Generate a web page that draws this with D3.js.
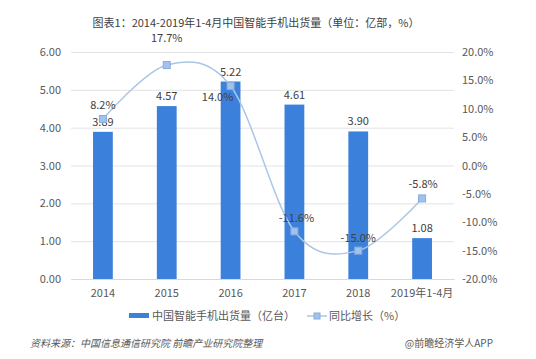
<!DOCTYPE html>
<html><head><meta charset="utf-8">
<script src="https://cdn.jsdelivr.net/npm/d3@7/dist/d3.min.js"></script>
<style>body{margin:0;background:#fff}svg{display:block}text{font-family:"Noto Sans CJK SC","Noto Sans",sans-serif}</style>
</head><body><svg id="c" width="536" height="359"></svg>
<script>
const categories = ["2014","2015","2016","2017","2018","2019年1-4月"];
const shipments = [3.89,4.57,5.22,4.61,3.90,1.08];
const growth = [8.2,17.7,14.0,-11.6,-15.0,-5.8];
const leftTicks = [0,1,2,3,4,5,6];
const rightTicks = [-20,-15,-10,-5,0,5,10,15,20];
const title = "图表1：2014-2019年1-4月中国智能手机出货量（单位：亿部，%）";
const legendNames = ["中国智能手机出货量（亿台）","同比增长（%）"];
const sourceText = "资料来源：中国信息通信研究院 前瞻产业研究院整理";
const creditText = "@前瞻经济学人APP";
// label offsets (layout only)
const pctLabelOffsets = [[0,-10],[0,-23],[-13,15],[2,-9],[0,-9],[1,-10]];

const svg = d3.select("#c");
const L=71,R=454,T=52,B=279;
const x = d3.scaleBand().domain(categories).range([L,R]).paddingInner(0.69).paddingOuter(0.345);
const yL = d3.scaleLinear().domain([0,6]).range([B,T]);
const yR = d3.scaleLinear().domain([-20,20]).range([B,T]);
const cx = d=>x(d)+x.bandwidth()/2;

svg.append("text").attr("x",256).attr("y",27).attr("text-anchor","middle")
  .attr("font-size",11).attr("fill","#404040").text(title);

// grid
svg.append("g").selectAll("line").data(leftTicks).join("line")
  .attr("x1",L).attr("x2",R).attr("y1",d=>yL(d)+0.5).attr("y2",d=>yL(d)+0.5)
  .attr("stroke","#e3e3e3");

// left axis
const gl = svg.append("g").attr("transform",`translate(${L},0)`)
  .call(d3.axisLeft(yL).tickValues(leftTicks).tickFormat(d3.format(".2f")).tickSize(0).tickPadding(10));
gl.select(".domain").remove();
gl.selectAll("text").attr("font-size",11).attr("fill","#595959").attr("font-family","'Noto Sans CJK SC'");

// right axis
const gr = svg.append("g").attr("transform",`translate(${R},0)`)
  .call(d3.axisRight(yR).tickValues(rightTicks).tickFormat(d=>d.toFixed(1)+"%").tickSize(0).tickPadding(8));
gr.select(".domain").remove();
gr.selectAll("text").attr("font-size",11).attr("fill","#595959").attr("font-family","'Noto Sans CJK SC'");

// x axis
const gx = svg.append("g").attr("transform",`translate(0,${B})`)
  .call(d3.axisBottom(x).tickSize(0).tickPadding(10));
gx.select(".domain").attr("stroke","#d9d9d9");
gx.selectAll("text").attr("font-size",11).attr("fill","#595959").attr("font-family","'Noto Sans CJK SC'");

// bars
svg.append("g").selectAll("rect").data(categories).join("rect")
  .attr("x",d=>x(d)).attr("width",x.bandwidth())
  .attr("y",(d,i)=>yL(shipments[i])).attr("height",(d,i)=>B-yL(shipments[i]))
  .attr("fill","#3b80db");

// bar labels
svg.append("g").selectAll("text").data(categories).join("text")
  .attr("x",d=>cx(d)).attr("y",(d,i)=>yL(shipments[i])-6)
  .attr("text-anchor","middle").attr("font-size",11).attr("fill","#404040")
  .text((d,i)=>shipments[i].toFixed(2));

// line
const line = d3.line().x(d=>cx(d[0])).y(d=>yR(d[1])).curve(d3.curveCardinal.tension(0));
const pts = categories.map((c,i)=>[c,growth[i]]);
svg.append("path").attr("d",line(pts)).attr("fill","none").attr("stroke","#abc6e6").attr("stroke-width",1.5);
svg.append("g").selectAll("rect").data(pts).join("rect")
  .attr("x",d=>cx(d[0])-3.5).attr("y",d=>yR(d[1])-3.5).attr("width",7).attr("height",7)
  .attr("fill","#a3c2ea").attr("stroke","#86acdf").attr("stroke-width",1);

// pct labels
svg.append("g").selectAll("text").data(pts).join("text")
  .attr("x",(d,i)=>cx(d[0])+pctLabelOffsets[i][0]).attr("y",(d,i)=>yR(d[1])+pctLabelOffsets[i][1])
  .attr("text-anchor","middle").attr("font-size",11).attr("fill","#404040")
  .text(d=>d[1].toFixed(1)+"%");

// legend
const lg = svg.append("g");
lg.append("rect").attr("x",129).attr("y",313).attr("width",20).attr("height",5).attr("fill","#3b80db");
lg.append("text").attr("x",152).attr("y",320).attr("font-size",11).attr("fill","#595959").text(legendNames[0]);
lg.append("line").attr("x1",307).attr("x2",327).attr("y1",316).attr("y2",316).attr("stroke","#abc6e6").attr("stroke-width",1.5);
lg.append("rect").attr("x",314).attr("y",313).attr("width",6).attr("height",6).attr("fill","#a3c2ea").attr("stroke","#86acdf");
lg.append("text").attr("x",329).attr("y",320).attr("font-size",11).attr("fill","#595959").text(legendNames[1]);

// source
svg.append("text").attr("x",30).attr("y",347).attr("font-size",10).attr("font-style","italic")
  .attr("fill","#595959").text(sourceText);
svg.append("text").attr("x",493).attr("y",347).attr("text-anchor","end").attr("font-size",10)
  .attr("fill","#595959").text(creditText);
</script></body></html>
